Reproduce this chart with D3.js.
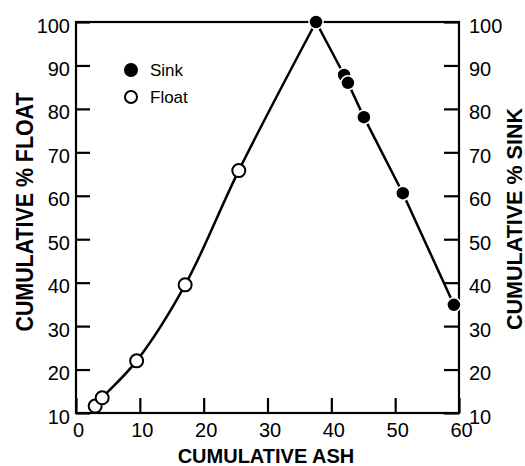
<!DOCTYPE html>
<html>
<head>
<meta charset="utf-8">
<script src="https://cdn.jsdelivr.net/npm/d3@7"></script>
<style>
  body { margin: 0; background: #fff; }
</style>
</head>
<body>
<div id="graph"></div>
<script>
// cumulative ash (x) vs cumulative % float / % sink
var floatAsh = [3.0, 4.1, 9.5, 17.1, 25.5];
var floatPct = [11.6, 13.5, 22.0, 39.5, 65.8];
var sinkAsh = [37.6, 42.0, 42.6, 45.1, 51.2, 59.2];
var sinkPct = [100, 87.8, 86.0, 78.1, 60.6, 34.9];
var xTicks = [0, 10, 20, 30, 40, 50, 60];
var yTicks = [10, 20, 30, 40, 50, 60, 70, 80, 90, 100];

var width = 525, height = 466;
var plotL = 76, plotR = 459, plotT = 22, plotB = 413;
var fontFam = '"Liberation Sans", Arial, Helvetica, sans-serif';

var svg = d3.select('#graph').append('svg')
    .attr('width', width)
    .attr('height', height);

var x = d3.scaleLinear().domain([0, 60]).range([plotL, plotR]);
var y = d3.scaleLinear().domain([10, 100]).range([plotB, plotT]);

var floatData = floatAsh.map(function (d, i) { return {x: d, y: floatPct[i]}; });
var sinkData = sinkAsh.map(function (d, i) { return {x: d, y: sinkPct[i]}; });

// axes, ticks inside the frame
var xAxis = svg.append('g').attr('transform', 'translate(0,' + plotB + ')')
    .call(d3.axisBottom(x).tickValues(xTicks).tickSizeInner(-15).tickSizeOuter(0).tickPadding(8));
var yLeft = svg.append('g').attr('transform', 'translate(' + plotL + ',0)')
    .call(d3.axisLeft(y).tickValues(yTicks).tickSizeInner(-14).tickSizeOuter(0).tickPadding(6));
var yRight = svg.append('g').attr('transform', 'translate(' + plotR + ',0)')
    .call(d3.axisRight(y).tickValues(yTicks).tickSizeInner(-15).tickSizeOuter(0).tickPadding(10));

[xAxis, yLeft, yRight].forEach(function (g) {
    g.selectAll('.tick line').attr('stroke', '#000').attr('stroke-width', 2.2);
    g.selectAll('.tick text').attr('font-size', 20).attr('font-family', fontFam).attr('fill', '#000');
});
xAxis.selectAll('.tick text').attr('dy', '0.8em').attr('dx', 2);
yLeft.selectAll('.tick text').attr('dy', '0.5em');
yRight.selectAll('.tick text').attr('dy', '0.5em');

// frame
svg.append('rect')
    .attr('x', plotL).attr('y', plotT)
    .attr('width', plotR - plotL).attr('height', plotB - plotT)
    .attr('fill', 'none').attr('stroke', '#000').attr('stroke-width', 2.2);

// lines
var floatLine = d3.line()
    .x(function (d) { return x(d.x); })
    .y(function (d) { return y(d.y); })
    .curve(d3.curveCatmullRom);
var sinkLine = d3.line()
    .x(function (d) { return x(d.x); })
    .y(function (d) { return y(d.y); });

svg.append('path')
    .datum(floatData.concat([sinkData[0]]))
    .attr('d', floatLine)
    .attr('fill', 'none').attr('stroke', '#000').attr('stroke-width', 2.5);
svg.append('path')
    .datum(sinkData)
    .attr('d', sinkLine)
    .attr('fill', 'none').attr('stroke', '#000').attr('stroke-width', 2.5);

// markers
svg.selectAll('.float').data(floatData).enter().append('circle')
    .classed('float', true)
    .attr('cx', function (d) { return x(d.x); })
    .attr('cy', function (d) { return y(d.y); })
    .attr('r', 6.5)
    .attr('fill', '#fff').attr('stroke', '#000').attr('stroke-width', 2);
svg.selectAll('.sink').data(sinkData).enter().append('circle')
    .classed('sink', true)
    .attr('cx', function (d) { return x(d.x); })
    .attr('cy', function (d) { return y(d.y); })
    .attr('r', 7)
    .attr('fill', '#000').attr('stroke', '#fff').attr('stroke-width', 1.5);

// legend
var legend = [{key: 'Sink', fill: '#000', cy: 70}, {key: 'Float', fill: '#fff', cy: 97}];
legend.forEach(function (d) {
    svg.append('circle')
        .attr('cx', 131).attr('cy', d.cy).attr('r', 6)
        .attr('fill', d.fill).attr('stroke', '#000').attr('stroke-width', 2);
    svg.append('text')
        .attr('x', 150).attr('y', d.cy + 6)
        .attr('font-family', fontFam).attr('font-size', 17)
        .text(d.key);
});

// axis titles
svg.append('text')
    .attr('x', 266).attr('y', 463)
    .attr('text-anchor', 'middle')
    .attr('font-family', fontFam).attr('font-size', 20).attr('font-weight', 'bold')
    .text('CUMULATIVE ASH');
svg.append('text')
    .attr('transform', 'translate(33,212) rotate(-90)')
    .attr('text-anchor', 'middle')
    .attr('font-family', fontFam).attr('font-size', 24).attr('font-weight', 'bold')
    .attr('textLength', 239).attr('lengthAdjust', 'spacingAndGlyphs')
    .text('CUMULATIVE % FLOAT');
svg.append('text')
    .attr('transform', 'translate(522,219) rotate(-90)')
    .attr('text-anchor', 'middle')
    .attr('font-family', fontFam).attr('font-size', 22).attr('font-weight', 'bold')
    .attr('textLength', 222).attr('lengthAdjust', 'spacingAndGlyphs')
    .text('CUMULATIVE % SINK');
</script>
</body>
</html>
